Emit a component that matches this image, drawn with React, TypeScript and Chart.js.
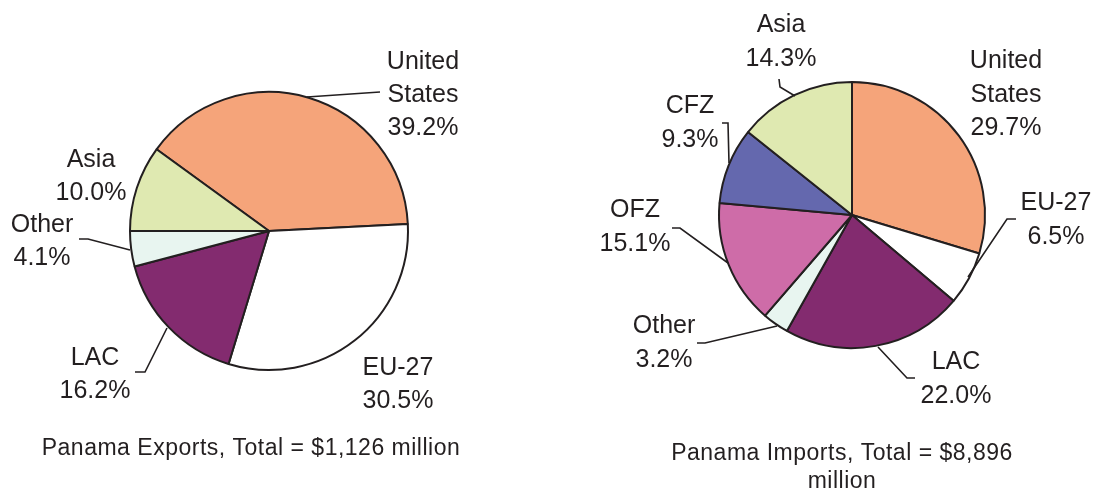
import React, { useEffect, useRef } from "react";
import { Chart, registerables } from "chart.js";

Chart.register(...registerables);

// ---------- data ----------
const exportCategories = ["United States", "EU-27", "LAC", "Other", "Asia"];
const exportShares = [39.2, 30.5, 16.2, 4.1, 10.0];
const exportColors = ["#F5A47A", "#FFFFFF", "#832B6F", "#E8F5F0", "#DFE9B1"];
const exportTitle = ["Panama Exports, Total = $1,126 million"];

const importCategories = ["United States", "EU-27", "LAC", "Other", "OFZ", "CFZ", "Asia"];
const importShares = [29.7, 6.5, 22.0, 3.2, 15.1, 9.3, 14.3];
const importColors = ["#F5A47A", "#FFFFFF", "#832B6F", "#E8F5F0", "#CE6CA8", "#6468AE", "#DFE9B1"];
const importTitle = ["Panama Imports, Total = $8,896", "million"];

const INK = "#231F20";
const FONT = "'Liberation Sans', Arial, Helvetica, sans-serif";

type Pt = [number, number];
type LabelPos = { dx: number; dy: number; leader?: Pt[] };

// label placement relative to pie centre (px)
const exportLayout: LabelPos[] = [
  { dx: 154, dy: -162, leader: [[111, -139], [38, -134]] },
  { dx: 129, dy: 144 },
  { dx: -174, dy: 134, leader: [[-134, 141], [-124, 141], [-102, 97]] },
  { dx: -227, dy: 1, leader: [[-190, 8], [-181, 8], [-139, 19]] },
  { dx: -178, dy: -64 },
];
const importLayout: LabelPos[] = [
  { dx: 154, dy: -147 },
  { dx: 204, dy: -5, leader: [[164, 4], [155, 4], [116, 62]] },
  { dx: 104, dy: 154, leader: [[63, 163], [55, 163], [26, 132]] },
  { dx: -188, dy: 118, leader: [[-155, 128], [-147, 128], [-75, 111]] },
  { dx: -217, dy: 2, leader: [[-180, 13], [-172, 13], [-124, 48]] },
  { dx: -162, dy: -102, leader: [[-130, -92], [-124, -92], [-123, -52]] },
  { dx: -71, dy: -183, leader: [[-73, -136], [-72, -128], [-57, -119]] },
];

function makeCallouts(
  categories: string[],
  values: number[],
  layout: LabelPos[],
  title: string[],
  titleDx: number,
  titleDy: number,
  lineGap: number
) {
  return {
    id: "callouts",
    afterDatasetsDraw(chart: any) {
      const arc = chart.getDatasetMeta(0).data[0];
      if (!arc) return;
      const cx = arc.x;
      const cy = arc.y;
      const ctx: CanvasRenderingContext2D = chart.ctx;
      ctx.save();
      ctx.strokeStyle = INK;
      ctx.lineWidth = 1.6;
      ctx.fillStyle = INK;
      ctx.textAlign = "center";
      ctx.textBaseline = "alphabetic";
      layout.forEach((p, i) => {
        if (p.leader) {
          ctx.beginPath();
          p.leader.forEach(([x, y], k) => {
            if (k === 0) ctx.moveTo(cx + x, cy + y);
            else ctx.lineTo(cx + x, cy + y);
          });
          ctx.stroke();
        }
        const lines = [...categories[i].split(" "), values[i].toFixed(1) + "%"];
        ctx.font = `25px ${FONT}`;
        lines.forEach((t, k) => ctx.fillText(t, cx + p.dx, cy + p.dy + k * lineGap));
      });
      ctx.font = `23px ${FONT}`;
      (ctx as any).letterSpacing = "0.5px";
      title.forEach((t, k) => ctx.fillText(t, cx + titleDx, cy + titleDy + k * 28));
      ctx.restore();
    },
  };
}

type PieProps = {
  left: number;
  width: number;
  height: number;
  padding: { left: number; right: number; top: number; bottom: number };
  radius: number;
  rotation: number;
  categories: string[];
  values: number[];
  colors: string[];
  layout: LabelPos[];
  title: string[];
  titleDx: number;
  titleDy: number;
  lineGap: number;
};

function PieCanvas(props: PieProps) {
  const ref = useRef<HTMLCanvasElement>(null);
  useEffect(() => {
    const chart = new Chart(ref.current as HTMLCanvasElement, {
      type: "pie",
      data: {
        labels: props.categories,
        datasets: [
          {
            data: props.values,
            backgroundColor: props.colors,
            borderColor: INK,
            borderWidth: 2,
            radius: props.radius,
          } as any,
        ],
      },
      options: {
        responsive: false,
        animation: false,
        rotation: props.rotation,
        events: [],
        layout: { padding: props.padding },
        plugins: { legend: { display: false }, tooltip: { enabled: false } },
      } as any,
      plugins: [
        makeCallouts(
          props.categories,
          props.values,
          props.layout,
          props.title,
          props.titleDx,
          props.titleDy,
          props.lineGap
        ),
      ],
    });
    return () => chart.destroy();
  }, []);
  return (
    <canvas
      ref={ref}
      width={props.width}
      height={props.height}
      style={{ position: "absolute", left: props.left, top: 0, width: props.width, height: props.height }}
    />
  );
}

export default function App() {
  return (
    <div style={{ position: "absolute", left: 0, top: 0, width: 1094, height: 493, background: "#fff", overflow: "hidden" }}>
      <PieCanvas
        left={0}
        width={540}
        height={493}
        padding={{ left: 0, right: 2, top: 0, bottom: 31 }}
        radius={139}
        rotation={-54}
        categories={exportCategories}
        values={exportShares}
        colors={exportColors}
        layout={exportLayout}
        title={exportTitle}
        titleDx={-18}
        titleDy={224}
        lineGap={33}
      />
      <PieCanvas
        left={554}
        width={540}
        height={493}
        padding={{ left: 56, right: 0, top: 0, bottom: 63 }}
        radius={133}
        rotation={0}
        categories={importCategories}
        values={importShares}
        colors={importColors}
        layout={importLayout}
        title={importTitle}
        titleDx={-10}
        titleDy={245}
        lineGap={33.5}
      />
    </div>
  );
}
